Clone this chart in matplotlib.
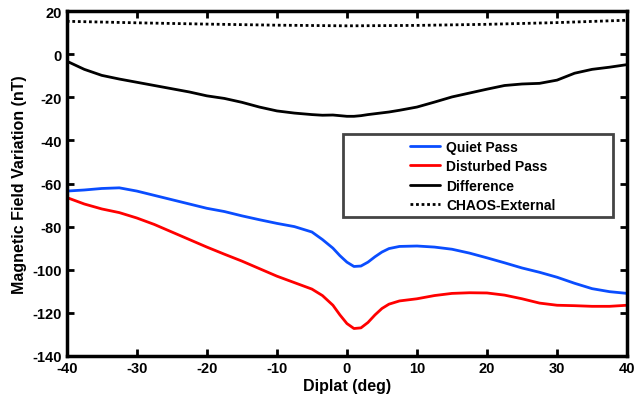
import numpy as np
import matplotlib.pyplot as plt
from matplotlib.patches import Rectangle

plt.rcParams['font.family'] = ['Liberation Sans', 'DejaVu Sans']
plt.rcParams['font.weight'] = 'bold'
plt.rcParams['axes.unicode_minus'] = False

# diplat grid (deg)
diplat = [-40, -37.5, -35, -32.5, -30, -27.5, -25, -22.5, -20, -17.5, -15, -12.5,
          -10, -7.5, -5, -3.5, -2, -1, 0, 1, 2, 3, 4, 5, 6, 7.5, 10, 12.5, 15,
          17.5, 20, 22.5, 25, 27.5, 30, 32.5, 35, 37.5, 40]

quiet = [-63.5, -63, -62.3, -62, -63.5, -65.5, -67.5, -69.5, -71.5, -73, -75, -76.8,
         -78.5, -80, -82.5, -86, -90, -93.5, -96.5, -98.5, -98.3, -96.5, -94, -91.8,
         -90.2, -89.2, -89, -89.5, -90.5, -92.3, -94.5, -96.8, -99.2, -101.2, -103.5,
         -106.3, -108.8, -110.2, -111]

disturbed = [-66.5, -69.5, -71.8, -73.5, -76, -79, -82.5, -86, -89.5, -92.8, -96, -99.5,
             -103, -106, -109, -112, -116.5, -121, -125, -127.3, -127, -124.5, -121, -118,
             -116, -114.5, -113.5, -112, -111, -110.7, -110.8, -111.8, -113.5, -115.5,
             -116.5, -116.7, -117, -117, -116.5]

difference = [-3.2, -7, -9.8, -11.5, -13, -14.5, -16, -17.5, -19.3, -20.5, -22.3, -24.5,
              -26.3, -27.3, -28, -28.3, -28.2, -28.5, -28.8, -28.8, -28.5, -28, -27.6, -27.2,
              -26.8, -26, -24.5, -22.2, -19.8, -18, -16.2, -14.5, -13.8, -13.5, -12,
              -8.8, -7, -6, -4.8]

chaos_x = [-40, -30, -20, -10, 0, 10, 20, 30, 40]
chaos = [15.3, 14.6, 14.0, 13.5, 13.2, 13.4, 13.9, 14.7, 15.8]

fig = plt.figure(figsize=(6.36, 4.06), dpi=100)
ax = fig.add_axes([0.105, 0.121, 0.881, 0.849])

kw = dict(lw=2, solid_joinstyle='round', solid_capstyle='round')
ax.plot(diplat, quiet, color='#0a4dff', label='Quiet Pass', **kw)
ax.plot(diplat, disturbed, color='#ff0000', label='Disturbed Pass', **kw)
ax.plot(diplat, difference, color='black', label='Difference', **kw)
ax.plot(chaos_x, chaos, color='black', lw=2, ls=(0, (1, 1)), label='CHAOS-External')

ax.set_xlim(-40, 40)
ax.set_ylim(-140, 20)
ax.set_xticks(np.arange(-40, 41, 10))
ax.set_yticks(np.arange(-140, 21, 20))
ax.tick_params(direction='in', length=5, width=2, top=True, right=True, labelsize=10.5)
for lab in ax.get_xticklabels() + ax.get_yticklabels():
    lab.set_fontweight('bold')
for sp in ax.spines.values():
    sp.set_linewidth(2.5)

ax.set_xlabel('Diplat (deg)', fontsize=11.5, fontweight='bold', labelpad=2)
ax.set_ylabel('Magnetic Field Variation (nT)', fontsize=11.5, fontweight='bold', labelpad=4)

# legend box drawn by hand so content sits centered with wide side margins
ax.add_patch(Rectangle((0.493, 0.403), 0.482, 0.24, transform=ax.transAxes,
                       facecolor='white', edgecolor='#444444', lw=2, zorder=4))
leg = ax.legend(loc='center', bbox_to_anchor=(0.742, 0.522), frameon=False,
                handlelength=2.2, handletextpad=0.4, labelspacing=0.4,
                prop={'weight': 'bold', 'size': 10})
leg.set_zorder(5)

fig.savefig('out.png', dpi=100)
